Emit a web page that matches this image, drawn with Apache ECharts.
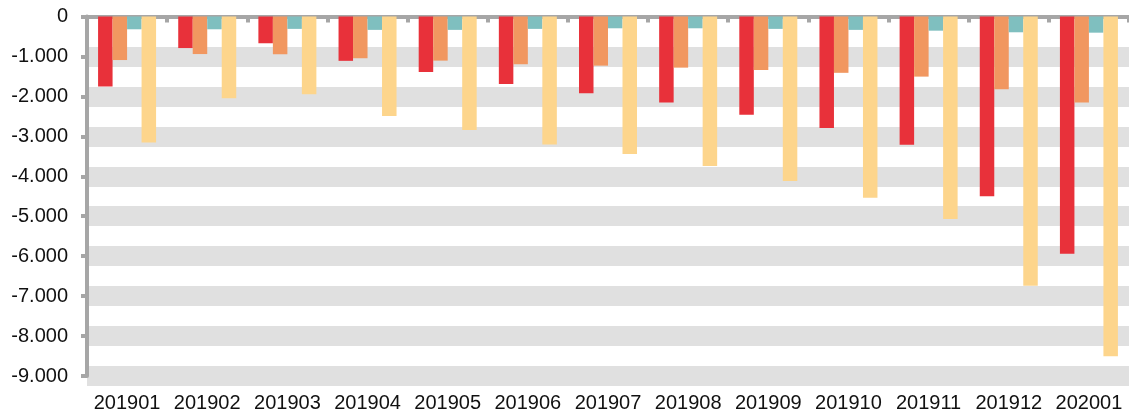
<!DOCTYPE html>
<html>
<head>
<meta charset="utf-8">
<script src="https://cdn.jsdelivr.net/npm/echarts@6/dist/echarts.min.js"></script>
<style>
  html, body { margin: 0; padding: 0; background: #fff; }
  #chart { width: 1129px; height: 413px; }
</style>
</head>
<body>
<div id="chart"></div>
<script>
// months on the category axis
var months = ['201901', '201902', '201903', '201904', '201905', '201906', '201907',
              '201908', '201909', '201910', '201911', '201912', '202001'];

// four series
var redValues    = [-1750, -790, -670, -1110, -1390, -1690, -1920, -2150, -2460, -2790, -3210, -4500, -5940];
var orangeValues = [-1090, -940, -945, -1045, -1105, -1195, -1230, -1280, -1340, -1410, -1505, -1820, -2155];
var tealValues   = [-320, -320, -310, -335, -335, -310, -295, -295, -310, -335, -355, -395, -405];
var yellowValues = [-3155, -2045, -1945, -2490, -2840, -3205, -3445, -3740, -4120, -4540, -5070, -6740, -8505];

// value axis ticks
var yMin = -9000, yMax = 0, yStep = 1000;

var axisGray = '#a6a6a6';
var font = "'Liberation Sans', Arial, sans-serif";

function fmt(v) {
    // 1.000 style thousands separator
    var s = Math.abs(v).toString().replace(/\B(?=(\d{3})+(?!\d))/g, '.');
    return (v < 0 ? '-' : '') + s;
}

function bar(name, data, color) {
    return {
        name: name,
        type: 'bar',
        xAxisIndex: 0,
        data: data,
        barWidth: 14.5,
        barGap: '0%',
        itemStyle: { color: color },
        silent: true
    };
}

var myChart = echarts.init(document.getElementById('chart'));

var option = {
    animation: false,
    grid: { left: 87, right: -8, top: 16.5, bottom: 36.5, containLabel: false },
    xAxis: [
        {
            type: 'category',
            position: 'bottom',
            data: months,
            axisLine: { show: false },
            axisTick: { show: false },
            axisLabel: { interval: 0, hideOverlap: false, margin: 17, fontSize: 20, color: '#111', fontFamily: font }
        },
        {
            type: 'category',
            position: 'top',
            data: months,
            axisLine: { show: true, onZero: false, lineStyle: { color: axisGray, width: 4 } },
            axisTick: { show: true, interval: 0, inside: true, length: 6, lineStyle: { color: axisGray, width: 4 } },
            axisLabel: { show: false }
        }
    ],
    yAxis: {
        type: 'value',
        min: yMin,
        max: yMax,
        interval: yStep,
        axisLine: { show: true, lineStyle: { color: axisGray, width: 4 } },
        axisTick: { show: true, length: 6, lineStyle: { color: axisGray, width: 4 } },
        axisLabel: { margin: 19, fontSize: 20, color: '#111', fontFamily: font, formatter: fmt },
        splitLine: {
            show: true,
            showMinLine: true,
            showMaxLine: false,
            lineStyle: { color: '#e0e0e0', width: 20 }
        }
    },
    series: [
        bar('red', redValues, '#e8313a'),
        bar('orange', orangeValues, '#f19760'),
        bar('teal', tealValues, '#7fbfbf'),
        bar('yellow', yellowValues, '#fdd58c')
    ]
};

myChart.setOption(option);
</script>
</body>
</html>
